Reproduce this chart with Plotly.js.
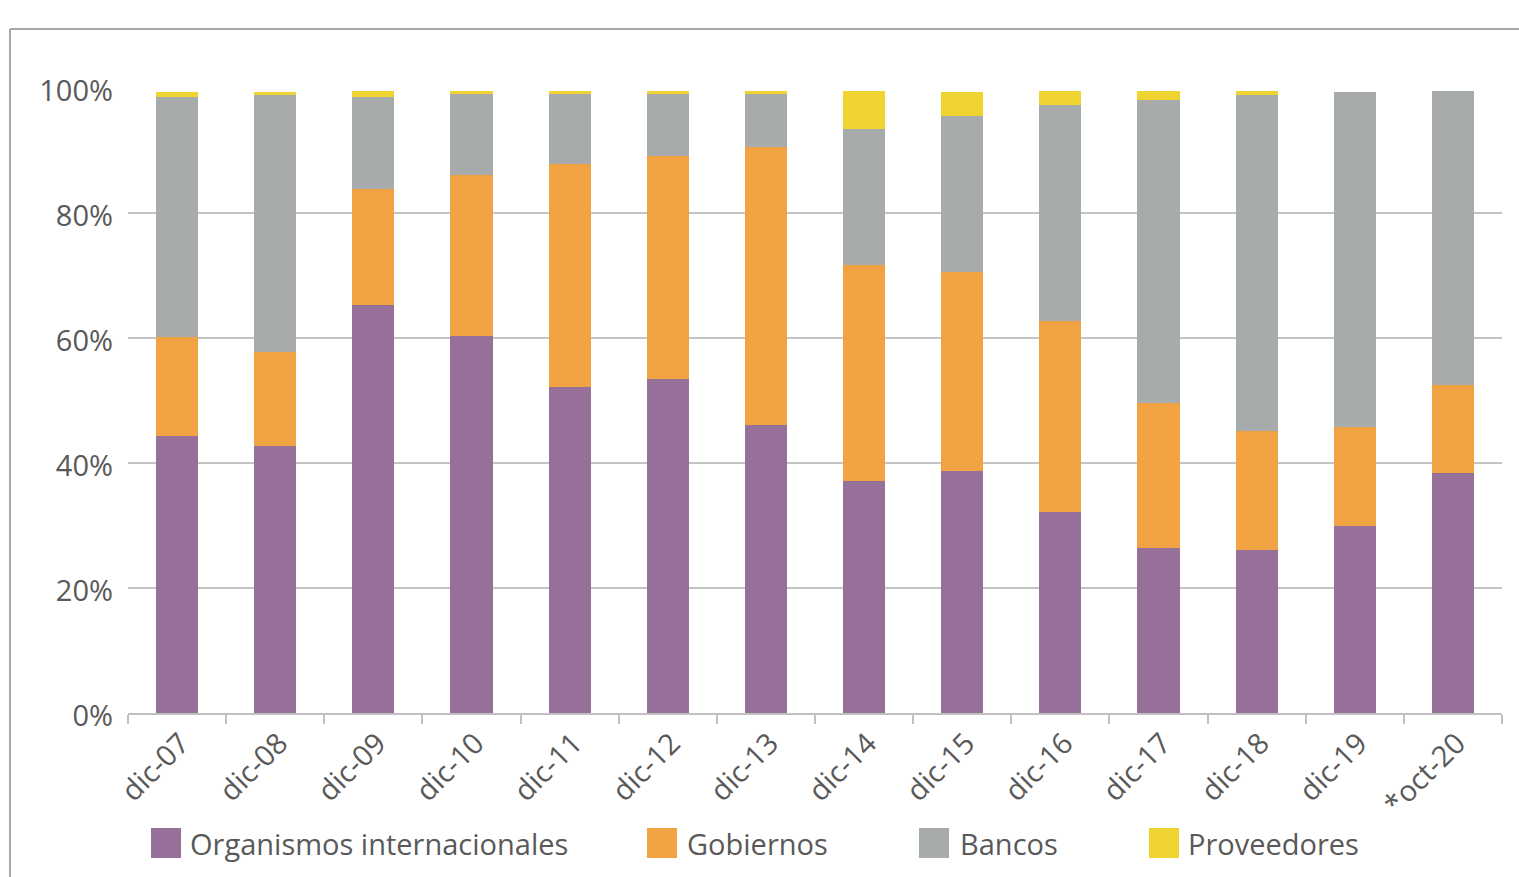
<!DOCTYPE html>
<html>
<head>
<meta charset="utf-8">
<script src="https://cdn.plot.ly/plotly-3.0.1.min.js"></script>
<style>
html,body{margin:0;padding:0;background:#fff;}
#chart{width:1519px;height:877px;}
</style>
</head>
<body>
<div id="chart"></div>
<script>
const categories = ["dic-07","dic-08","dic-09","dic-10","dic-11","dic-12","dic-13","dic-14","dic-15","dic-16","dic-17","dic-18","dic-19","*oct-20"];
const seriesNames = ["Organismos internacionales","Gobiernos","Bancos","Proveedores"];
const organismos = [44.4,42.8,65.3,60.4,52.1,53.4,46.1,37.2,38.8,32.2,26.4,26.1,30.0,38.4];
const gobiernos  = [15.8,14.9,18.5,25.7,35.8,35.8,44.4,34.5,31.7,30.6,23.2,19.1,15.7,14.1];
const bancos     = [38.3,41.2,14.8,13.0,11.2, 9.9, 8.6,21.8,25.1,34.5,48.5,53.7,53.7,47.1];
const proveedores= [ 0.9, 0.5, 1.0, 0.5, 0.5, 0.5, 0.5, 6.1, 3.8, 2.3, 1.5, 0.7, 0.0, 0.0];
const yTickVals = [0,20,40,60,80,100];
const yTickText = ["0%","20%","40%","60%","80%","100%"];

const colors = ["#967098","#F1A242","#A8ABAB","#EED331"];
const seriesValues = [organismos, gobiernos, bancos, proveedores];

const W = 1519, H = 877;
const M = {l:128, r:17, t:88, b:164};
const PW = W - M.l - M.r, PH = H - M.t - M.b;
const px = x => (x - M.l) / PW;
const py = y => (H - M.b - y) / PH;

const FONT = "'Open Sans', sans-serif";
const TXT = "#595959";

const traces = seriesNames.map((name, i) => ({
  type: "bar",
  name: name,
  x: categories,
  y: seriesValues[i],
  marker: {color: colors[i], line: {width: 0}},
  showlegend: false,
  hoverinfo: "x+y+name"
}));

// custom legend (large squares like the reference)
const legendSquareX = [151, 647, 919, 1149];
const legendTextX = [188, 685, 958, 1186];
const shapes = [];
const annotations = [];
seriesNames.forEach((name, i) => {
  shapes.push({type:"rect", xref:"paper", yref:"paper",
    x0: px(legendSquareX[i]), x1: px(legendSquareX[i] + 30),
    y0: py(858), y1: py(828),
    fillcolor: colors[i], line: {width: 0}});
  annotations.push({xref:"paper", yref:"paper", x: px(legendTextX[i]), y: py(843),
    xanchor:"left", yanchor:"middle", text: name, showarrow:false,
    font:{family:FONT, size:29, color:TXT}});
});
// chart frame (partially visible border)
shapes.push({type:"line", xref:"paper", yref:"paper", x0: px(10), x1: px(1519), y0: py(29), y1: py(29), line:{color:"#A6A8A8", width:2}});
shapes.push({type:"line", xref:"paper", yref:"paper", x0: px(10), x1: px(10), y0: py(29), y1: py(877), line:{color:"#A6A8A8", width:2}});

const layout = {
  width: W, height: H,
  margin: M,
  paper_bgcolor: "#fff", plot_bgcolor: "#fff",
  barmode: "stack",
  bargap: 0.57,
  showlegend: false,
  font: {family: FONT, color: TXT},
  xaxis: {
    type: "category",
    tickangle: -45,
    tickfont: {family: FONT, size: 29, color: TXT},
    showline: true, linecolor: "#BFBFBF", linewidth: 1.5,
    ticks: "outside", tickson: "boundaries", ticklen: 9, tickcolor: "#BFBFBF", tickwidth: 1.5,
    ticklabelshift: 4,
    showgrid: false, zeroline: false, fixedrange: true
  },
  yaxis: {
    range: [0, 100],
    tickvals: yTickVals, ticktext: yTickText,
    tickfont: {family: FONT, size: 29, color: TXT},
    showgrid: true, gridcolor: "#C4C4C4", gridwidth: 1.5,
    showline: false, zeroline: false, ticks: "",
    ticklabelstandoff: 14,
    ticklabelshift: 3,
    fixedrange: true
  },
  shapes: shapes,
  annotations: annotations
};

Plotly.newPlot("chart", traces, layout, {displayModeBar: false});
</script>
</body>
</html>
